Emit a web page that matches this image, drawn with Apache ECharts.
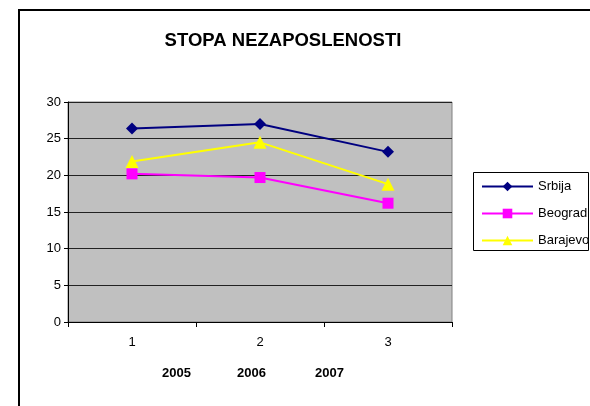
<!DOCTYPE html>
<html>
<head>
<meta charset="utf-8">
<script src="https://cdn.jsdelivr.net/npm/echarts@6/dist/echarts.min.js"></script>
<style>
  html, body { margin: 0; padding: 0; background: #fff; }
  #chart { width: 590px; height: 406px; }
</style>
</head>
<body>
<div id="chart"></div>
<script>
const categories = ['1', '2', '3'];
const years = ['2005', '2006', '2007'];
const srbija = [26.4, 27.0, 23.2];
const beograd = [20.2, 19.7, 16.2];
const barajevo = [21.9, 24.5, 18.8];

const chart = echarts.init(document.getElementById('chart'));
const font = 'Arial, "Liberation Sans", sans-serif';

function line(name, data, color, symbol, size) {
  return {
    name: name,
    type: 'line',
    data: data,
    symbol: symbol,
    symbolSize: size,
    lineStyle: { color: color, width: 2 },
    itemStyle: { color: color, borderWidth: 0 },
    emphasis: { disabled: true },
    animation: false
  };
}

chart.setOption({
  backgroundColor: '#fff',
  textStyle: { fontFamily: font },
  title: {
    text: 'STOPA NEZAPOSLENOSTI',
    left: 278,
    top: 26,
    textAlign: 'center',
    textStyle: { fontSize: 18.5, fontWeight: 'bold', color: '#000', fontFamily: font }
  },
  grid: {
    left: 68, top: 102, right: 138, bottom: 84,
    show: true,
    backgroundColor: '#c0c0c0',
    borderColor: '#808080',
    borderWidth: 1
  },
  xAxis: {
    type: 'category',
    data: categories,
    boundaryGap: true,
    axisLine: { lineStyle: { color: '#000', width: 1 } },
    axisTick: { show: true, length: 5, inside: false, lineStyle: { color: '#000' } },
    axisLabel: { color: '#000', fontSize: 13, margin: 14, fontFamily: font },
    splitLine: { show: false }
  },
  yAxis: {
    type: 'value',
    min: 0, max: 30, interval: 5,
    axisLine: { show: true, lineStyle: { color: '#000', width: 1 } },
    axisTick: { show: true, length: 4, inside: false, lineStyle: { color: '#000' } },
    axisLabel: { color: '#000', fontSize: 13, margin: 7, fontFamily: font },
    splitLine: { lineStyle: { color: '#222', width: 1 } }
  },
  legend: {
    orient: 'vertical',
    left: 473, top: 172,
    itemWidth: 51, itemHeight: 12,
    itemGap: 14,
    padding: [8, 0, 7, 8],
    selectedMode: false,
    textStyle: { color: '#000', fontSize: 13, fontFamily: font },
    data: ['Srbija', 'Beograd', 'Barajevo']
  },
  graphic: [
    {
      type: 'rect', silent: true, z: -1,
      shape: { x: 19, y: 10, width: 620, height: 420 },
      style: { fill: 'none', stroke: '#000', lineWidth: 2 }
    },
    {
      type: 'rect', silent: true, z: -1,
      shape: { x: 473.5, y: 172.5, width: 115, height: 78 },
      style: { fill: '#fff', stroke: '#000', lineWidth: 1 }
    },
    {
      type: 'text', left: 162, top: 367,
      style: { text: years[0], font: 'bold 13px ' + font, fill: '#000' }
    },
    {
      type: 'text', left: 237, top: 367,
      style: { text: years[1], font: 'bold 13px ' + font, fill: '#000' }
    },
    {
      type: 'text', left: 315, top: 367,
      style: { text: years[2], font: 'bold 13px ' + font, fill: '#000' }
    }
  ],
  series: [
    line('Srbija', srbija, '#000080', 'diamond', 12),
    line('Beograd', beograd, '#ff00ff', 'rect', 11),
    line('Barajevo', barajevo, '#ffff00', 'triangle', 13)
  ]
});
</script>
</body>
</html>
